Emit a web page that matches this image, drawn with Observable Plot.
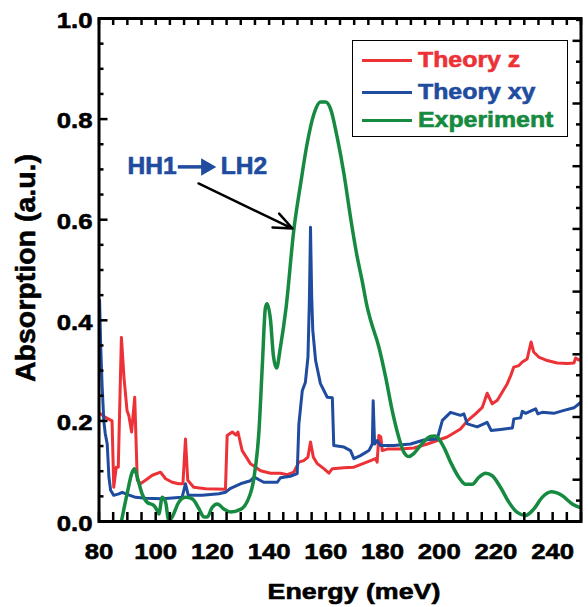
<!DOCTYPE html>
<html><head><meta charset="utf-8">
<script src="https://cdn.jsdelivr.net/npm/d3@7"></script>
<script src="https://cdn.jsdelivr.net/npm/@observablehq/plot@0.6"></script>
<style>
html,body{margin:0;padding:0;background:#fff;}
#chart{position:relative;width:588px;height:607px;overflow:hidden;}
.legend{position:absolute;left:352px;top:40px;width:214px;height:95px;border:1.5px solid #000;background:#fff;
  font-family:"Liberation Sans",Arial,sans-serif;font-weight:bold;font-size:22px;}
.legend .ln{position:absolute;left:9px;width:50px;height:3px;}
.legend .tx{position:absolute;left:65px;line-height:22px;white-space:nowrap;transform:scaleX(1.13);transform-origin:left center;-webkit-text-stroke:0.6px currentColor;}
</style></head>
<body><div id="chart"></div>
<script>
// ---- data ----
const seriesNames = ["Theory z", "Theory xy", "Experiment"];
const seriesColors = ["#ec3237", "#1f4c9f", "#168a40"];

const zE = [80.5,82.3,84.6,85.2,86.1,86.8,87.9,88.8,89.9,90.5,91.5,92.6,93.5,94.6,96.4,98.8,101.7,103.5,105.8,108.1,109.6,110.5,111.3,113.4,117.6,124.6,125.2,127,128.3,129,130.5,133.4,137,140.5,144,146.4,148.7,150.5,152.2,153.7,154.6,155.6,157,159.3,161.1,162.3,166.4,169.9,172.2,175.8,177.5,178.1,178.7,179.4,179.9,181.7,186.3,191,195.8,199.3,202.8,207.5,209.9,212.8,215.2,216.9,218.7,220.5,222.2,224,225.2,226.3,228.1,229.3,231,232.4,233.3,235.1,238.1,241.6,245.2,247.5,248.1,249.2,250];
const zA = [0.214,0.207,0.200,0.068,0.108,0.108,0.366,0.287,0.220,0.211,0.178,0.247,0.082,0.075,0.082,0.092,0.098,0.085,0.078,0.075,0.075,0.164,0.082,0.068,0.065,0.064,0.171,0.178,0.172,0.178,0.141,0.115,0.101,0.096,0.096,0.093,0.098,0.118,0.121,0.128,0.158,0.128,0.115,0.105,0.096,0.105,0.107,0.108,0.113,0.121,0.125,0.118,0.171,0.168,0.141,0.144,0.144,0.146,0.154,0.161,0.168,0.184,0.200,0.214,0.227,0.255,0.234,0.241,0.257,0.274,0.290,0.307,0.310,0.317,0.323,0.357,0.337,0.327,0.320,0.315,0.314,0.315,0.325,0.321,0.323];

const xyE = [80.2,80.6,81.1,81.7,82.2,82.9,83.5,84.1,85.2,87,88.2,89.9,92.9,96.4,102.3,109.3,110.5,111.5,116.4,122.3,124.6,126.4,129.9,133.4,134.6,135.8,138.1,142.9,144,147.5,149.9,150.5,151.7,152.8,153.7,154.2,154.6,155.0,155.4,156.4,158.1,160.5,162.3,162.8,166.4,168.7,169.9,172.2,175.2,176.4,176.7,177.2,178.1,179.3,184,189.9,194.6,199.3,201.1,204,207.5,208.7,209.9,213.4,216.9,218.3,221.6,225.8,226.3,228.7,229.3,230.5,232.8,234,234.8,236.3,240.4,244,247.5,250];
const xyA = [0.44,0.35,0.27,0.20,0.175,0.154,0.088,0.062,0.052,0.055,0.058,0.054,0.048,0.046,0.045,0.048,0.075,0.052,0.052,0.055,0.058,0.066,0.075,0.081,0.088,0.085,0.078,0.078,0.087,0.090,0.095,0.194,0.26,0.277,0.327,0.44,0.585,0.45,0.38,0.32,0.274,0.247,0.246,0.151,0.148,0.141,0.125,0.131,0.141,0.154,0.24,0.154,0.161,0.151,0.151,0.154,0.162,0.164,0.201,0.217,0.211,0.214,0.194,0.188,0.197,0.181,0.183,0.186,0.204,0.206,0.219,0.215,0.221,0.224,0.214,0.217,0.215,0.221,0.226,0.237];

const expE = [87.9,89.9,91.7,92.5,93.5,95.2,97,99.3,100.5,101.1,102.3,103.5,104.6,105.8,108.1,110.5,112.9,115.2,117,118.2,119.9,121.7,124,126.4,129.9,132.3,134.6,136.4,137.6,138.7,139.3,140.5,141.5,142.6,144,146,148.7,151.1,153.4,155.8,158.1,159.9,161.7,164,166.4,168.7,171.1,172.8,174.6,175.8,178.7,181.1,183.4,185.7,187.5,189.3,191,193.4,196.9,198.5,201.6,204,206.9,209.3,211.6,214,216.3,218.7,221.6,224.6,227.5,230.4,233.4,236.3,239.6,243.2,246.9,250];
const expA = [0,0.055,0.098,0.105,0.088,0.055,0.038,0.032,0.022,0.015,0.048,0.038,0.002,0.009,0.038,0.048,0.045,0.026,0.009,0.009,0.028,0.035,0.025,0.019,0.024,0.040,0.085,0.178,0.310,0.425,0.433,0.40,0.33,0.305,0.347,0.426,0.579,0.671,0.751,0.810,0.834,0.834,0.820,0.764,0.691,0.605,0.525,0.479,0.426,0.40,0.347,0.287,0.221,0.168,0.138,0.129,0.135,0.151,0.169,0.170,0.148,0.118,0.088,0.074,0.074,0.088,0.096,0.091,0.068,0.038,0.018,0.012,0.025,0.048,0.059,0.052,0.035,0.027];

const xTickLabels = [80,100,120,140,160,180,200,220,240];
const yTickLabels = [0,0.2,0.4,0.6,0.8,1.0];
const annotationParts = ["HH1", "LH2"];
const xTitle = "Energy (meV)";
const yTitle = "Absorption (a.u.)";

// ---- build tables ----
const zData = zE.map((e,i)=>({E:e, A:zA[i]}));
const xyData = xyE.map((e,i)=>({E:e, A:xyA[i]}));
const expData = expE.map((e,i)=>({E:e, A:expA[i]}));
const xTicks = d3.range(80, 250.01, 5);
const yMinor = d3.range(0, 1.001, 0.05).filter(v => Math.abs(v*5 - Math.round(v*5)) > 1e-6);
const rightTicks = d3.range(0, 25).map(k => ({v: k*0.04155, major: k % 3 === 2}));

const W = 588, H = 607, mL = 98.5, mR = 7.5, mT = 18, mB = 86;
const pW = W - mL - mR, pH = H - mT - mB;
const [RED, BLUE, GREEN] = seriesColors;
const FONT = "'Liberation Sans', Arial, Helvetica, sans-serif";
const bold = c => ({fill: c, stroke: c, strokeWidth: 0.6});

const chart = Plot.plot({
  width: W, height: H,
  marginLeft: mL, marginRight: mR, marginTop: mT, marginBottom: mB,
  x: {domain: [80, 250], axis: null},
  y: {domain: [0, 1], axis: null},
  style: {fontFamily: FONT, fontWeight: "bold", background: "white", overflow: "visible"},
  marks: [
    Plot.line(zData, {x: "E", y: "A", stroke: RED, strokeWidth: 3, clip: true}),
    Plot.line(xyData, {x: "E", y: "A", stroke: BLUE, strokeWidth: 3, clip: true}),
    Plot.line(expData, {x: "E", y: "A", stroke: GREEN, strokeWidth: 3.5, curve: "monotone-x", clip: true}),
    // ticks (inward)
    Plot.ruleX(xTicks, {x: d => d, insetTop: pH - 9, stroke: "black", strokeWidth: 2.5}),
    Plot.ruleX(xTicks, {x: d => d, insetBottom: pH - 7, stroke: "black", strokeWidth: 2.5}),
    Plot.ruleY(yTickLabels, {y: d => d, insetRight: pW - 9, stroke: "black", strokeWidth: 2.5}),
    Plot.ruleY(yMinor, {y: d => d, insetRight: pW - 5, stroke: "black", strokeWidth: 2.5}),
    Plot.ruleY(rightTicks, {y: "v", stroke: "black", strokeWidth: 2.5, filter: d => d.major, insetLeft: pW - 8}),
    Plot.ruleY(rightTicks, {y: "v", stroke: "black", strokeWidth: 2.5, filter: d => !d.major, insetLeft: pW - 4.5}),
    Plot.frame({stroke: "black", strokeWidth: 3}),
    // tick labels
    Plot.text(xTickLabels, {x: d => d, frameAnchor: "bottom", lineAnchor: "top", dy: 21, text: d => String(d), fontSize: 23, ...bold("black")}),
    Plot.text(yTickLabels, {y: d => d, frameAnchor: "left", textAnchor: "end", dx: -6.5, dy: 2, text: d => d.toFixed(1), fontSize: 23, ...bold("black")}),
    // axis titles
    Plot.text([xTitle], {frameAnchor: "bottom", lineAnchor: "top", dy: 62, dx: 14, text: d => d, fontSize: 22, ...bold("black")}),
    Plot.text([yTitle], {frameAnchor: "left", textAnchor: "middle", rotate: -90, dx: -73.5, dy: -2, text: d => d, fontSize: 28.5, ...bold("black")}),
    // annotation
    Plot.text([annotationParts[0]], {x: 90.05, y: 0.705, textAnchor: "start", text: d => d, fontSize: 23, ...bold(BLUE)}),
    Plot.link([0], {x1: 107.8, x2: 117.5, y1: 0.705, y2: 0.705, stroke: BLUE, strokeWidth: 3.5}),
    Plot.dot([0], {x: 117.8, y: 0.705, symbol: "triangle", rotate: 90, r: 6.5, fill: BLUE, stroke: "none"}),
    Plot.text([annotationParts[1]], {x: 122.9, y: 0.705, textAnchor: "start", text: d => d, fontSize: 23, ...bold(BLUE)}),
    Plot.arrow([0], {x1: 115.1, y1: 0.672, x2: 148.25, y2: 0.5825, stroke: "black", strokeWidth: 2.5, headLength: 12, headAngle: 45})
  ]
});

// horizontal stretch of text to match reference glyph proportions
const stretch = t => {
  const s = t.textContent;
  if (s === yTitle) return 1;
  if (s === xTitle) return 1.22;
  if (annotationParts.includes(s)) return 1.07;
  return 1.12;
};
chart.querySelectorAll("text").forEach(t => {
  const k = stretch(t);
  if (k === 1) return;
  const tr = t.getAttribute("transform") || "";
  const x = parseFloat(t.getAttribute("x")) || 0;
  t.setAttribute("transform", `${tr} translate(${x},0) scale(${k},1) translate(${-x},0)`);
});

const root = document.getElementById("chart");
root.appendChild(chart);

// legend
const leg = document.createElement("div");
leg.className = "legend";
const rowY = [19, 51, 79];
seriesNames.forEach((name, i) => {
  const ln = document.createElement("div");
  ln.className = "ln";
  ln.style.top = (rowY[i] - 1.5) + "px";
  ln.style.background = seriesColors[i];
  const tx = document.createElement("div");
  tx.className = "tx";
  tx.style.top = (rowY[i] - 11) + "px";
  tx.style.color = seriesColors[i];
  tx.textContent = name;
  leg.appendChild(ln); leg.appendChild(tx);
});
root.appendChild(leg);
</script></body></html>
